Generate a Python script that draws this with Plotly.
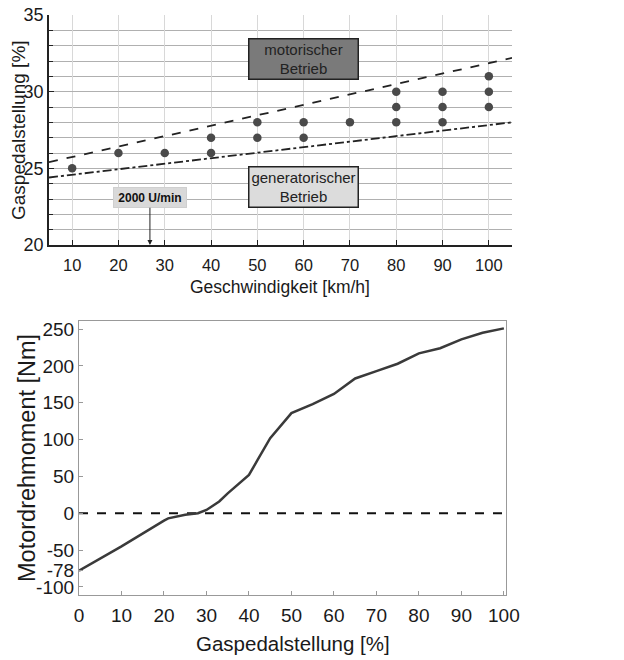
import plotly.graph_objects as go

# ---- Top chart data ----
speed = [10, 20, 30, 40, 40, 50, 50, 60, 60, 70, 80, 80, 80, 90, 90, 90, 100, 100, 100]
pedal = [25, 26, 26, 26, 27, 27, 28, 27, 28, 28, 28, 29, 30, 28, 29, 30, 29, 30, 31]
bound_x = [5, 105]
upper_y = [25.4, 32.2]
lower_y = [24.4, 28.0]
top_xticks = [10, 20, 30, 40, 50, 60, 70, 80, 90, 100]
top_yticks = [20, 25, 30, 35]
rpm_x = 26.8

# ---- Bottom chart data ----
gas = [0, 10, 20, 21, 25, 28, 30, 33, 35, 40, 42, 45, 50, 55, 60, 65, 70, 75, 80, 85, 90, 95, 100]
torque = [-78, -45, -10, -7, -2, 0, 4.5, 16, 27, 52, 72, 102, 136, 148, 162, 183, 193, 203, 217, 224, 236, 245, 251]
bot_xticks = [0, 10, 20, 30, 40, 50, 60, 70, 80, 90, 100]
bot_yticks = [-100, -78, -50, 0, 50, 100, 150, 200, 250]
bot_yticktext = [str(v) for v in bot_yticks]

FONT = "Liberation Sans, Arial, sans-serif"
W, H = 616, 652   # page body has an 8px margin


def px(xp):
    return (xp - 8) / W


def py(yp):
    return 1 - (yp - 8) / H


fig = go.Figure()

fig.add_trace(go.Scatter(x=bound_x, y=upper_y, mode="lines",
                         line=dict(color="#222", width=1.8, dash="dash"),
                         xaxis="x", yaxis="y", showlegend=False))
fig.add_trace(go.Scatter(x=bound_x, y=lower_y, mode="lines",
                         line=dict(color="#222", width=1.8, dash="dashdot"),
                         xaxis="x", yaxis="y", showlegend=False))
fig.add_trace(go.Scatter(x=speed, y=pedal, mode="markers",
                         marker=dict(color="#4a4a4a", size=8.5),
                         xaxis="x", yaxis="y", showlegend=False))

fig.add_trace(go.Scatter(x=[bot_xticks[0], bot_xticks[-1]], y=[0, 0], mode="lines",
                         line=dict(color="#111", width=2, dash="dash"),
                         xaxis="x2", yaxis="y2", showlegend=False))
fig.add_trace(go.Scatter(x=gas, y=torque, mode="lines",
                         line=dict(color="#3a3a3a", width=2.5),
                         xaxis="x2", yaxis="y2", showlegend=False))

fig.update_layout(
    width=W, height=H,
    margin=dict(l=0, r=0, t=0, b=0),
    paper_bgcolor="white", plot_bgcolor="white",
    font=dict(family=FONT, color="#1a1a1a"),
    xaxis=dict(domain=[px(49), px(512)], range=[5, 105], anchor="y", automargin=False,
               tickvals=top_xticks, ticks="inside", ticklen=5, tickcolor="#222",
               ticklabelstandoff=4, ticklabeloverflow="allow",
               showgrid=True, gridcolor="#d8d8d8", gridwidth=1,
               showline=True, linecolor="#222", linewidth=1.5,
               tickfont=dict(size=16.5), zeroline=False),
    yaxis=dict(domain=[py(245), py(15)], range=[20, 35], anchor="x", automargin=False,
               tickvals=top_yticks, ticks="inside", ticklen=5, tickcolor="#222",
               ticklabeloverflow="allow",
               showgrid=True, gridcolor="#b0b0b0", gridwidth=1,
               minor=dict(dtick=1, showgrid=True, gridcolor="#b0b0b0", ticks="inside",
                          ticklen=4, tickcolor="#222"),
               showline=True, linecolor="#222", linewidth=1.5,
               tickfont=dict(size=18), zeroline=False),
    xaxis2=dict(domain=[px(79), px(506)], range=[0, 100.5], anchor="y2", automargin=False,
                tickvals=bot_xticks, ticks="inside", ticklen=4, tickcolor="#999",
                ticklabelstandoff=3, ticklabeloverflow="allow",
                showgrid=False, showline=True, mirror=True, linecolor="#999", linewidth=1.2,
                tickfont=dict(size=19), zeroline=False),
    yaxis2=dict(domain=[py(595), py(321)], range=[-111, 261], anchor="x2", automargin=False,
                tickvals=bot_yticks, ticktext=bot_yticktext, ticks="inside", ticklen=4,
                tickcolor="#999", ticklabeloverflow="allow",
                showgrid=False, showline=True, mirror=True, linecolor="#999", linewidth=1.2,
                tickfont=dict(size=19), zeroline=False),
)

# axis titles
title_kw = dict(xref="paper", yref="paper", showarrow=False, xanchor="center", yanchor="middle")
fig.add_annotation(x=px(18), y=py(130), text="Gaspedalstellung [%]", textangle=-90,
                   font=dict(size=19), **title_kw)
fig.add_annotation(x=px(280), y=py(287), text="Geschwindigkeit [km/h]",
                   font=dict(size=17.5), **title_kw)
fig.add_annotation(x=px(293), y=py(643), text="Gaspedalstellung [%]",
                   font=dict(size=20.5), **title_kw)
fig.add_annotation(x=px(27), y=py(458), text="Motordrehmoment [Nm]", textangle=-90,
                   font=dict(size=23.5), **title_kw)

# region labels
fig.add_annotation(x=60, y=32.1, xref="x", yref="y", text="motorischer<br>Betrieb",
                   showarrow=False, font=dict(size=15, color="#222"),
                   bgcolor="#7a7a7a", bordercolor="#222", borderwidth=1.5,
                   width=106, height=37, borderpad=1)
fig.add_annotation(x=60, y=23.8, xref="x", yref="y", text="generatorischer<br>Betrieb",
                   showarrow=False, font=dict(size=15, color="#222"),
                   bgcolor="#dcdcdc", bordercolor="#222", borderwidth=1.5,
                   width=106, height=37, borderpad=1)
fig.add_annotation(x=rpm_x, y=20, xref="x", yref="y", ax=rpm_x, ay=23.08,
                   axref="x", ayref="y", text="<b>2000 U/min</b>",
                   showarrow=True, arrowhead=2, arrowsize=1, arrowwidth=1, arrowcolor="#222",
                   font=dict(size=12, color="#111"), bgcolor="#d9d9d9", bordercolor="#cfcfcf",
                   borderwidth=1, width=70, height=17, borderpad=1)

fig.write_html("out.html")
